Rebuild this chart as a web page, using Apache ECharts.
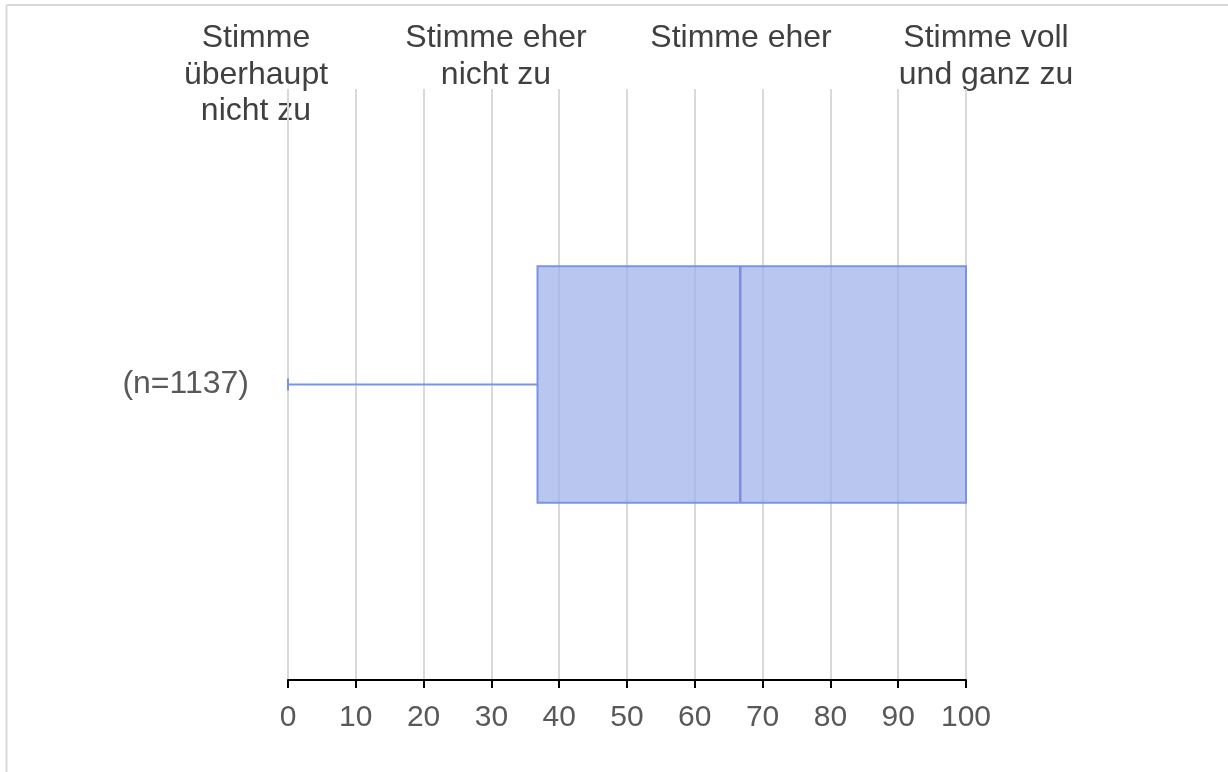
<!DOCTYPE html>
<html>
<head>
<meta charset="utf-8">
<script src="https://cdn.jsdelivr.net/npm/echarts@6/dist/echarts.min.js"></script>
<style>
  html, body { margin: 0; padding: 0; background: #fff; }
  #box-wrapper { width: 1228px; height: 772px; }
</style>
</head>
<body>
<div id="box-wrapper"></div>
<script>
// Daten
const categories = ['(n=1137)'];
// [min, Q1, Median, Q3, max]
const boxValues = [[0, 36.8, 66.7, 100, 100]];
const xTicks = [0, 10, 20, 30, 40, 50, 60, 70, 80, 90, 100];
const topLabels = ['Stimme\nüberhaupt\nnicht zu', 'Stimme eher\nnicht zu', 'Stimme eher', 'Stimme voll\nund ganz zu'];
const topLabelX = [256, 496, 741, 986];

const fontFamily = '"Liberation Sans", Arial, sans-serif';
const boxFill = 'rgba(160,178,235,0.74)';
const boxEdge = '#7b93e6';

var myChart = echarts.init(document.getElementById('box-wrapper'), null, { renderer: 'canvas' });

function renderBox(params, api) {
  const cat = api.value(0);
  const vMin = api.value(1), q1 = api.value(2), med = api.value(3), q3 = api.value(4), vMax = api.value(5);
  const pMin = api.coord([vMin, cat]);
  const pQ1 = api.coord([q1, cat]);
  const pMed = api.coord([med, cat]);
  const pQ3 = api.coord([q3, cat]);
  const pMax = api.coord([vMax, cat]);
  const band = api.size([0, 1])[1];
  const half = band * 0.4 / 2;
  const cy = pMed[1];
  const cap = 6;
  const lineStyle = { stroke: boxEdge, lineWidth: 2, fill: null };
  return {
    type: 'group',
    children: [
      { type: 'line', shape: { x1: pMin[0], y1: cy, x2: pQ1[0], y2: cy }, style: lineStyle },
      { type: 'line', shape: { x1: pQ3[0], y1: cy, x2: pMax[0], y2: cy }, style: lineStyle },
      { type: 'line', shape: { x1: pMin[0], y1: cy - cap, x2: pMin[0], y2: cy + cap }, style: lineStyle },
      { type: 'line', shape: { x1: pMax[0], y1: cy - cap, x2: pMax[0], y2: cy + cap }, style: lineStyle },
      { type: 'rect', shape: { x: pQ1[0], y: cy - half, width: pQ3[0] - pQ1[0], height: half * 2 },
        style: { fill: boxFill, stroke: boxEdge, lineWidth: 2 } },
      { type: 'line', shape: { x1: pMed[0], y1: cy - half, x2: pMed[0], y2: cy + half },
        style: { stroke: '#7d8cdc', lineWidth: 2.5 } }
    ]
  };
}

// Rahmen oben/links
const graphics = [
  { type: 'line', shape: { x1: 6.5, y1: 5, x2: 1228, y2: 5 }, style: { stroke: '#d9d9d9', lineWidth: 2 } },
  { type: 'line', shape: { x1: 6.5, y1: 5, x2: 6.5, y2: 772 }, style: { stroke: '#d9d9d9', lineWidth: 2 } }
];
// Beschriftung oben
topLabels.forEach(function (t, i) {
  graphics.push({
    type: 'text',
    x: topLabelX[i], y: 20,
    style: {
      text: t, fill: '#404040', font: '32px ' + fontFamily,
      textAlign: 'center', verticalAlign: 'top', lineHeight: 36.5
    }
  });
});

var option = {
  animation: false,
  grid: { left: 288, right: 262, top: 89, bottom: 92 },
  xAxis: {
    type: 'value', min: 0, max: 100, interval: 10,
    axisLine: { show: true, lineStyle: { color: '#000', width: 2 } },
    axisTick: { show: true, length: 8, lineStyle: { color: '#000', width: 2 } },
    axisLabel: {
      color: '#595959', fontSize: 30, fontFamily: fontFamily, margin: 23,
      formatter: function (v) { return xTicks.indexOf(v) >= 0 ? String(v) : ''; }
    },
    splitLine: { show: true, lineStyle: { color: '#d9d9d9', width: 2 } }
  },
  yAxis: {
    type: 'category', data: categories,
    axisLine: { show: false }, axisTick: { show: false },
    axisLabel: { color: '#595959', fontSize: 32, fontFamily: fontFamily, margin: 39 },
    splitLine: { show: false }
  },
  graphic: graphics,
  series: [{
    type: 'custom',
    renderItem: renderBox,
    encode: { x: [1, 2, 3, 4, 5], y: 0 },
    data: boxValues.map(function (b, i) { return [i].concat(b); })
  }]
};

option && myChart.setOption(option);
</script>
</body>
</html>
